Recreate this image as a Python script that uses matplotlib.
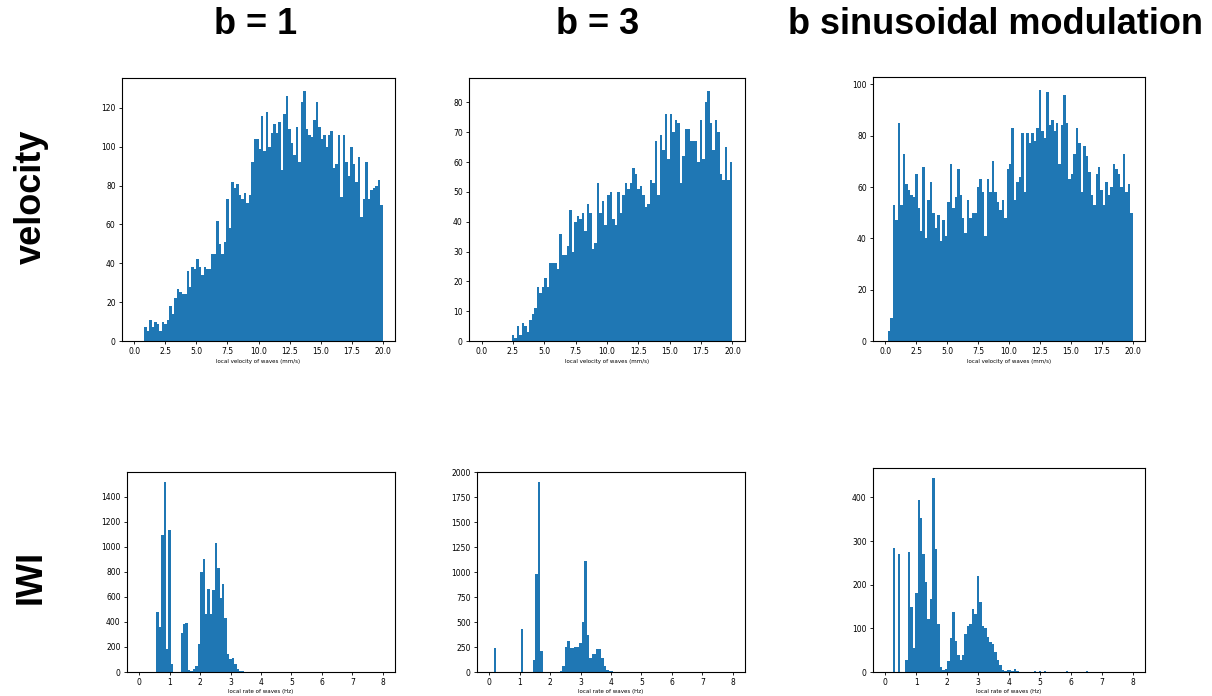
import numpy as np
import matplotlib
matplotlib.use("Agg")
import matplotlib.pyplot as plt

# column titles and row labels
col_titles = ["b = 1", "b = 3", "b sinusoidal modulation"]
row_labels = ["velocity", "IWI"]

# velocity histograms: 100 bins over 0..20 mm/s, counts listed up to the last bin
vel_b1 = [7, 5, 11, 7, 10, 9, 5, 10, 9, 11,
          18, 14, 22, 27, 25, 24, 24, 36, 28, 38, 37,
          42, 38, 34, 38, 37, 37, 45, 45, 62, 50,
          45, 51, 73, 58, 82, 79, 81, 75, 73, 76,
          71, 75, 92, 104, 104, 99, 116, 98, 118, 100,
          107, 112, 107, 113, 88, 117, 126, 109, 102, 96,
          110, 92, 123, 129, 109, 106, 105, 114, 123, 110,
          104, 106, 100, 106, 108, 89, 91, 106, 74, 106,
          92, 85, 100, 91, 82, 95, 64, 73, 92, 73,
          78, 79, 80, 83, 70]
vel_b3 = [2, 1, 5, 2, 6, 5, 3, 7, 9, 11,
          18, 16, 18, 21, 18, 26, 26, 26, 24, 36,
          29, 29, 32, 44, 30, 40, 42, 41, 43, 37,
          46, 43, 31, 33, 53, 43, 47, 39, 49, 50,
          41, 39, 50, 43, 49, 53, 51, 53, 58, 56,
          51, 52, 49, 45, 46, 54, 53, 67, 49, 69,
          64, 76, 61, 76, 70, 74, 73, 53, 62, 71,
          71, 67, 67, 67, 60, 74, 61, 80, 84, 73,
          64, 74, 70, 56, 54, 65, 54, 60]
vel_sin = [4, 9, 53, 47, 85, 53, 73, 61, 59, 57,
           56, 65, 52, 43, 68, 40, 55, 62, 50, 44,
           49, 39, 47, 41, 54, 69, 52, 56, 67, 57,
           48, 42, 55, 48, 50, 50, 60, 63, 58, 41,
           63, 58, 70, 58, 54, 51, 55, 48, 67, 69,
           83, 55, 62, 64, 81, 58, 81, 77, 81, 78,
           83, 98, 82, 79, 97, 84, 86, 82, 85, 69,
           84, 96, 85, 63, 65, 73, 83, 77, 58, 76,
           72, 66, 57, 53, 65, 68, 59, 53, 62, 57,
           60, 69, 67, 65, 60, 73, 58, 61, 50]

# IWI histograms: 100 bins over 0..8 Hz, {bin index: count}
iwi_b1 = {7: 480, 8: 360, 9: 1090, 10: 1520, 11: 185, 12: 1135, 13: 65,
          17: 315, 18: 385, 19: 390, 20: 15, 21: 5, 22: 20, 23: 50, 24: 225,
          25: 800, 26: 905, 27: 460, 28: 660, 29: 460, 30: 655, 31: 1030,
          32: 830, 33: 590, 34: 700, 35: 430, 36: 140, 37: 100, 38: 115,
          39: 60, 40: 25, 41: 10, 42: 5, 43: 2}
iwi_b3 = {2: 245, 13: 430, 18: 120, 19: 985, 20: 1905, 21: 210, 22: 5,
          29: 10, 30: 60, 31: 250, 32: 315, 33: 245, 34: 245, 35: 255,
          36: 255, 37: 290, 38: 500, 39: 1115, 40: 370, 41: 140, 42: 185,
          43: 185, 44: 235, 45: 230, 46: 140, 47: 60, 48: 20, 49: 15,
          50: 8, 51: 5, 52: 2, 53: 2}
iwi_sin = {3: 285, 5: 270, 8: 28, 9: 275, 10: 150, 11: 55, 12: 180, 13: 395,
           14: 352, 15: 270, 16: 207, 17: 122, 18: 167, 19: 445, 20: 282,
           21: 110, 22: 12, 23: 5, 24: 8, 25: 25, 26: 78, 27: 137, 28: 70,
           29: 40, 30: 28, 31: 38, 32: 88, 33: 105, 34: 110, 35: 145,
           36: 133, 37: 220, 38: 160, 39: 105, 40: 100, 41: 80, 42: 68,
           43: 65, 44: 45, 45: 28, 46: 15, 47: 5, 48: 3, 49: 5, 50: 4,
           51: 3, 52: 8, 53: 2, 55: 1, 57: 1, 60: 2, 62: 2, 64: 3, 67: 1,
           70: 1, 73: 2, 76: 1, 81: 3, 84: 1}

vel_xlabel = "local velocity of waves (mm/s)"
iwi_xlabel = "local rate of waves (Hz)"

W, H = 1212, 696


def px_axes(fig, left, right, top, bottom):
    # axes from pixel box of the reference image
    return fig.add_axes([left / W, 1 - bottom / H, (right - left) / W, (bottom - top) / H])


def vel_counts(vals):
    # counts end in the last bin (19.8..20)
    c = np.zeros(100)
    c[100 - len(vals):] = vals
    return c


def iwi_counts(d):
    c = np.zeros(100)
    for k, v in d.items():
        c[k] = v
    return c


def main():
    fig = plt.figure(figsize=(W / 100, H / 100), dpi=100)

    vel_edges = np.linspace(0, 20, 101)
    iwi_edges = np.linspace(0, 8, 101)

    top_boxes = [(122, 395, 78, 341), (469, 745, 78, 341), (873, 1145, 77, 341)]
    bot_boxes = [(127, 395, 472, 672), (477, 745, 472, 672), (873, 1145, 468, 672)]

    for box, vals in zip(top_boxes, [vel_b1, vel_b3, vel_sin]):
        ax = px_axes(fig, *box)
        centers = (vel_edges[:-1] + vel_edges[1:]) / 2
        ax.hist(centers, bins=vel_edges, weights=vel_counts(vals), color="#1f77b4")
        ax.set_xticks(np.arange(0, 20.1, 2.5))
        ax.set_xlabel(vel_xlabel, fontsize=4, labelpad=2)
        ax.tick_params(labelsize=5.5, length=2.5, width=0.6, pad=2)

    for box, d in zip(bot_boxes, [iwi_b1, iwi_b3, iwi_sin]):
        ax = px_axes(fig, *box)
        centers = (iwi_edges[:-1] + iwi_edges[1:]) / 2
        ax.hist(centers, bins=iwi_edges, weights=iwi_counts(d), color="#1f77b4")
        ax.set_xticks(np.arange(0, 9, 1))
        ax.set_xlabel(iwi_xlabel, fontsize=4, labelpad=1)
        ax.tick_params(labelsize=5.5, length=2.5, width=0.6, pad=2)

    # column titles
    for x, t in zip([256, 598, 996], col_titles):
        fig.text(x / W, 1 - 25 / H, t, ha="center", va="center",
                 fontsize=26, fontweight="bold", family="Liberation Sans")

    # row labels
    for y, t in zip([197, 577], row_labels):
        fig.text(31 / W, 1 - y / H, t, ha="center", va="center", rotation=90,
                 fontsize=26, fontweight="bold", family="Liberation Sans")

    fig.savefig("out.png", dpi=100)


if __name__ == "__main__":
    main()
